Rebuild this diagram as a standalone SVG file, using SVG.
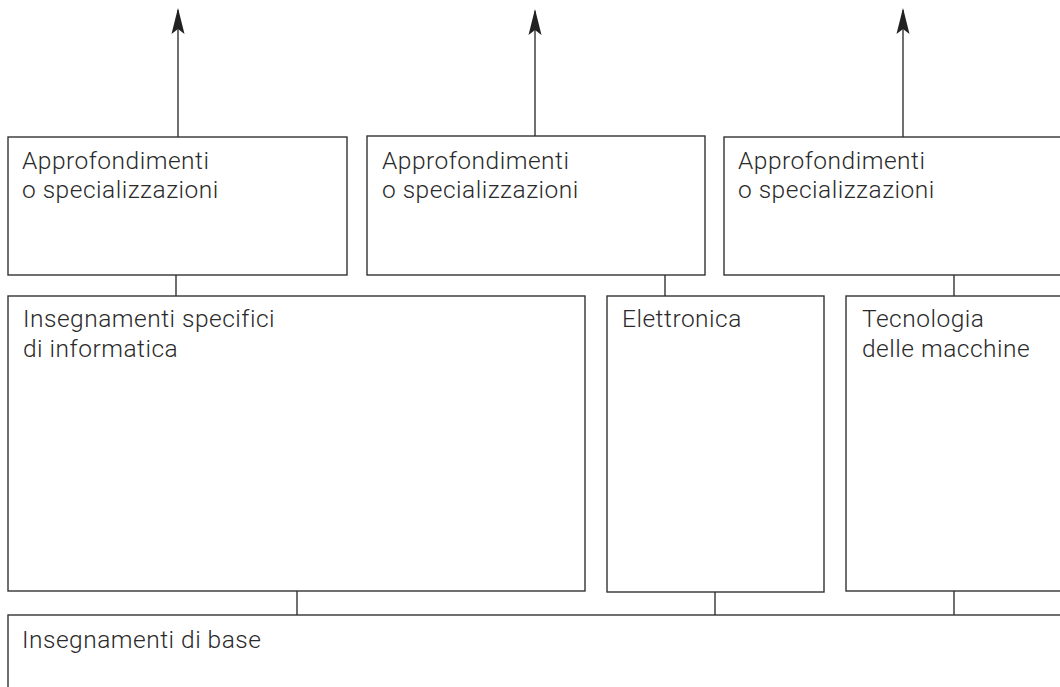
<svg xmlns="http://www.w3.org/2000/svg" width="1060" height="687" viewBox="0 0 1060 687">
<defs>
<style>
.box{fill:#fff;stroke:#333;stroke-width:1.4}
.ln{fill:none;stroke:#333;stroke-width:1.4}
.t{font-family:Roboto,"Open Sans","Liberation Sans",sans-serif;font-size:24.5px;font-weight:300;letter-spacing:0.5px;fill:#2a2a2a}
</style>
<marker id="ah" viewBox="0 0 26 14" refX="24" refY="7" markerWidth="26" markerHeight="14" markerUnits="userSpaceOnUse" orient="auto">
<path d="M26,7 L0,0.5 L5,7 L0,13.5 Z" fill="#222"/>
</marker>
</defs>
<g id="connectors">
<line class="ln" x1="178" y1="137" x2="178" y2="10" marker-end="url(#ah)"/>
<line class="ln" x1="535" y1="136" x2="535" y2="11" marker-end="url(#ah)"/>
<line class="ln" x1="903" y1="137" x2="903" y2="10" marker-end="url(#ah)"/>
<line class="ln" x1="176" y1="275" x2="176" y2="296"/>
<line class="ln" x1="665" y1="275" x2="665" y2="296"/>
<line class="ln" x1="954" y1="275" x2="954" y2="296"/>
<line class="ln" x1="297" y1="591" x2="297" y2="615"/>
<line class="ln" x1="715" y1="592" x2="715" y2="615"/>
<line class="ln" x1="954" y1="591" x2="954" y2="615"/>
</g>
<g id="app1">
<rect class="box" x="8" y="137" width="339" height="138"/>
<text class="t"><tspan x="22" y="169">Approfondimenti</tspan><tspan x="22" y="198">o specializzazioni</tspan></text>
</g>
<g id="app2">
<rect class="box" x="367" y="136" width="338" height="139"/>
<text class="t"><tspan x="382" y="169">Approfondimenti</tspan><tspan x="382" y="198">o specializzazioni</tspan></text>
</g>
<g id="app3">
<rect class="box" x="724" y="137" width="346" height="138"/>
<text class="t"><tspan x="738" y="169">Approfondimenti</tspan><tspan x="738" y="198">o specializzazioni</tspan></text>
</g>
<g id="informatica">
<rect class="box" x="8" y="296" width="577" height="295"/>
<text class="t"><tspan x="23" y="327">Insegnamenti specifici</tspan><tspan x="23" y="357">di informatica</tspan></text>
</g>
<g id="elettronica">
<rect class="box" x="607" y="296" width="217" height="296"/>
<text class="t" x="622" y="327">Elettronica</text>
</g>
<g id="tecnologia">
<rect class="box" x="846" y="296" width="224" height="295"/>
<text class="t"><tspan x="862" y="327">Tecnologia</tspan><tspan x="862" y="357">delle macchine</tspan></text>
</g>
<g id="base">
<rect class="box" x="8" y="615" width="1062" height="90"/>
<text class="t" x="22" y="648">Insegnamenti di base</text>
</g>
</svg>
